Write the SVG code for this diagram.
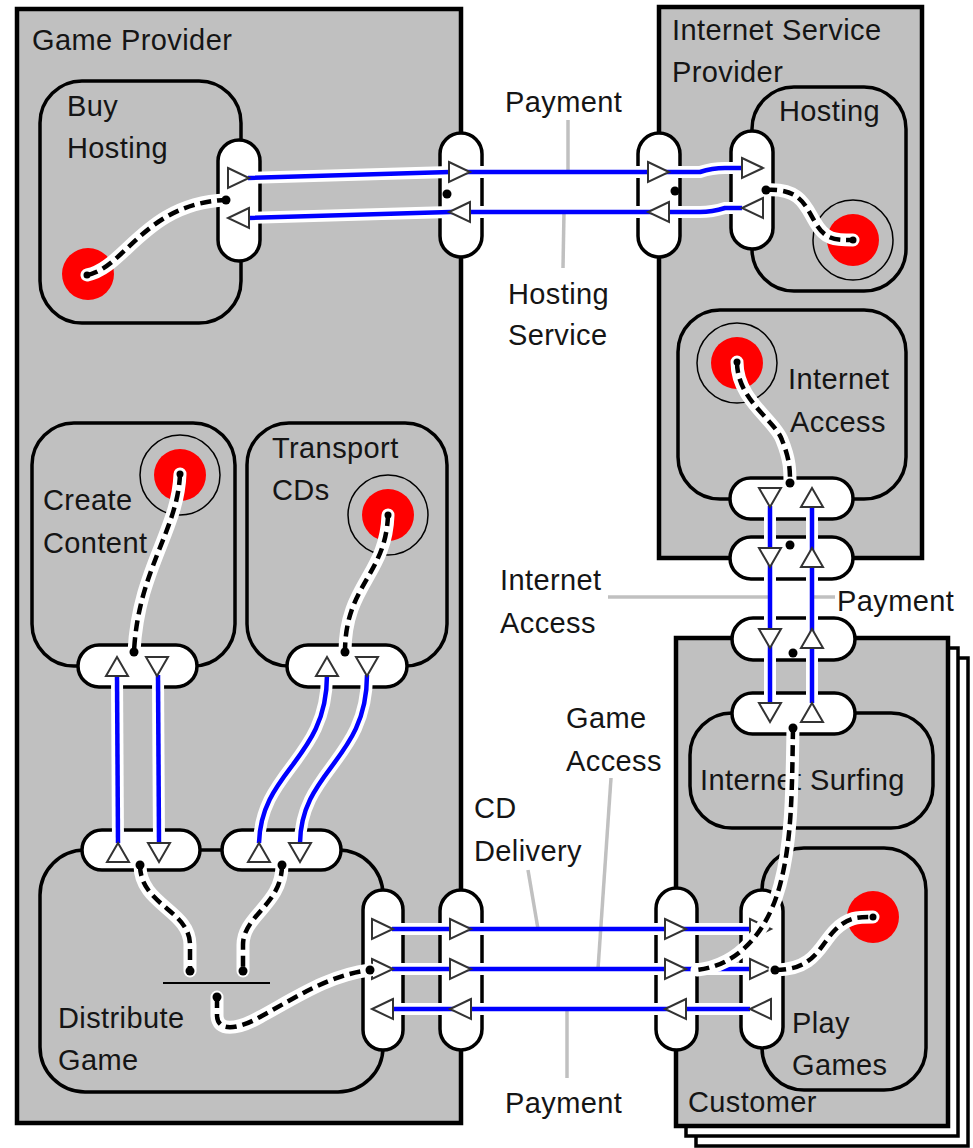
<svg xmlns="http://www.w3.org/2000/svg" xmlns:xlink="http://www.w3.org/1999/xlink" width="973" height="1148" viewBox="0 0 973 1148">
  <style>
    .outer { fill: #c0c0c0; stroke: #000; stroke-width: 4.5; }
    .sheet { fill: #fff; stroke: #000; stroke-width: 3.5; }
    .sub { fill: #c0c0c0; stroke: #000; stroke-width: 3.5; }
    .port { fill: #fff; stroke: #000; stroke-width: 3.5; }
    .goal { fill: #ff0000; }
    .ring { fill: none; stroke: #000; stroke-width: 1.5; }
    .halo { fill: none; stroke: #fff; stroke-width: 12; }
    .flow { fill: none; stroke: #0000ff; stroke-width: 4.5; }
    .dhalo { fill: none; stroke: #fff; stroke-width: 13; stroke-linecap: round; }
    .dep { fill: none; stroke: #000; stroke-width: 4.5; stroke-dasharray: 11 6; }
    .tri { fill: #fff; stroke: #333; stroke-width: 2; stroke-linejoin: miter; }
    .dot { fill: #000; }
    .leader { fill: none; stroke: #c0c0c0; stroke-width: 3.5; }
    .bar { fill: none; stroke: #000; stroke-width: 2; }
    .lbl { font-family: "Liberation Sans", Arial, sans-serif; font-size: 29px; letter-spacing: 0.4px; fill: #151515; }
  </style>
  <defs>
    <path id="triR" class="tri" d="M0,-10 L21,0 L0,10 Z"/>
    <path id="triL" class="tri" d="M21,-10 L0,0 L21,10 Z"/>
    <path id="triD" class="tri" d="M-11,0 L11,0 L0,19 Z"/>
    <path id="triU" class="tri" d="M-11,19 L11,19 L0,0 Z"/>
  </defs>

  <rect width="973" height="1148" fill="#fff"/>

  <!-- Game Provider -->
  <g id="game-provider">
    <rect class="outer" x="17" y="9" width="444" height="1114"/>
    <text class="lbl" x="32" y="50">Game Provider</text>

    <g id="buy-hosting">
      <rect class="sub" x="40" y="81" width="201" height="242" rx="42"/>
      <text class="lbl" x="67" y="116">Buy</text>
      <text class="lbl" x="67" y="158">Hosting</text>
      <circle class="goal" cx="88" cy="274" r="26"/>
      <rect class="port" x="218" y="140" width="42" height="121" rx="21"/>
    </g>

    <g id="create-content">
      <rect class="sub" x="32" y="423" width="203" height="243" rx="42"/>
      <text class="lbl" x="43" y="510">Create</text>
      <text class="lbl" x="43" y="553">Content</text>
      <circle class="ring" cx="180" cy="475" r="40"/>
      <circle class="goal" cx="180" cy="475" r="26"/>
      <rect class="port" x="78" y="645" width="119" height="42" rx="21"/>
    </g>

    <g id="transport-cds">
      <rect class="sub" x="247" y="423" width="200" height="243" rx="42"/>
      <text class="lbl" x="272" y="458">Transport</text>
      <text class="lbl" x="272" y="500">CDs</text>
      <circle class="ring" cx="388" cy="515" r="40"/>
      <circle class="goal" cx="388" cy="515" r="26"/>
      <rect class="port" x="287" y="645" width="120" height="42" rx="21"/>
    </g>

    <g id="distribute-game">
      <rect class="sub" x="40" y="850" width="343" height="242" rx="45"/>
      <text class="lbl" x="58" y="1028">Distribute</text>
      <text class="lbl" x="58" y="1070">Game</text>
      <rect class="port" x="82" y="830" width="118" height="40" rx="20"/>
      <rect class="port" x="222" y="830" width="119" height="40" rx="20"/>
      <rect class="port" x="363" y="890" width="40" height="160" rx="20"/>
      <path class="bar" d="M163,983 H270"/>
    </g>

    <rect class="port" x="440" y="133" width="42" height="124" rx="21"/>
    <rect class="port" x="440" y="890" width="42" height="160" rx="21"/>
  </g>

  <!-- Internet Service Provider -->
  <g id="isp">
    <rect class="outer" x="659" y="7" width="263" height="551"/>
    <text class="lbl" x="672" y="40">Internet Service</text>
    <text class="lbl" x="672" y="82">Provider</text>

    <g id="hosting">
      <rect class="sub" x="752" y="87" width="154" height="204" rx="42"/>
      <text class="lbl" x="779" y="121">Hosting</text>
      <circle class="ring" cx="853" cy="240" r="40"/>
      <circle class="goal" cx="853" cy="240" r="26"/>
      <rect class="port" x="731" y="131" width="42" height="118" rx="21"/>
    </g>

    <g id="internet-access">
      <rect class="sub" x="678" y="310" width="228" height="189" rx="42"/>
      <text class="lbl" x="788" y="389">Internet</text>
      <text class="lbl" x="790" y="432">Access</text>
      <circle class="ring" cx="737" cy="363" r="40"/>
      <circle class="goal" cx="737" cy="363" r="26"/>
      <rect class="port" x="730" y="478" width="123" height="41" rx="20.5"/>
    </g>

    <rect class="port" x="638" y="133" width="42" height="124" rx="21"/>
    <rect class="port" x="730" y="537" width="123" height="42" rx="21"/>
  </g>

  <!-- Customer (stack of several) -->
  <g id="customer">
    <rect class="sheet" x="696" y="658" width="272" height="488"/>
    <rect class="sheet" x="686" y="648" width="272" height="488"/>
    <rect class="outer" x="676" y="638" width="272" height="488"/>
    <text class="lbl" x="688" y="1112">Customer</text>

    <g id="internet-surfing">
      <rect class="sub" x="690" y="713" width="243" height="115" rx="42"/>
      <text class="lbl" x="700" y="790">Internet Surfing</text>
      <rect class="port" x="732" y="693" width="123" height="41" rx="20.5"/>
    </g>

    <g id="play-games">
      <rect class="sub" x="762" y="848" width="164" height="242" rx="42"/>
      <text class="lbl" x="792" y="1033">Play</text>
      <text class="lbl" x="792" y="1075">Games</text>
      <circle class="goal" cx="873" cy="917" r="26"/>
      <rect class="port" x="741" y="890" width="42" height="158" rx="21"/>
    </g>

    <rect class="port" x="732" y="618" width="123" height="42" rx="21"/>
    <rect class="port" x="656" y="888" width="41" height="162" rx="20.5"/>
  </g>

  <!-- Connectors -->
  <g id="connectors">
    <!-- white casings of the flows -->
    <g>
      <path class="halo" d="M248,178 L450,172 L700,172 Q712,168 725,168 L742,168"/>
      <path class="halo" d="M742,208 L725,208 Q712,212 700,212 L450,212 L248,218"/>
      <path class="halo" d="M770,506 L770,703"/>
      <path class="halo" d="M812,703 L812,506"/>
      <path class="halo" d="M118,843 L117,675"/>
      <path class="halo" d="M158,675 L159,843"/>
      <path class="halo" d="M259,843 C 261,770 327,760 327,675"/>
      <path class="halo" d="M367,675 C 367,760 301,770 300,843"/>
      <path class="halo" d="M392,929 L750,929"/>
      <path class="halo" d="M392,969 L750,969"/>
      <path class="halo" d="M750,1009 L393,1009"/>
    </g>

    <!-- label leaders -->
    <g>
      <path class="leader" d="M568,120 L568,172"/>
      <path class="leader" d="M564,212 L563,268"/>
      <path class="leader" d="M608,597 L770,597"/>
      <path class="leader" d="M812,597 L835,597"/>
      <path class="leader" d="M611,778 L598,969"/>
      <path class="leader" d="M528,870 L538,929"/>
      <path class="leader" d="M567,1009 L567,1078"/>
    </g>

    <!-- flows -->
    <g>
      <path class="flow" d="M248,178 L450,172 L700,172 Q712,168 725,168 L742,168"/>
      <path class="flow" d="M742,208 L725,208 Q712,212 700,212 L450,212 L248,218"/>
      <path class="flow" d="M770,506 L770,703"/>
      <path class="flow" d="M812,703 L812,506"/>
      <path class="flow" d="M118,843 L117,675"/>
      <path class="flow" d="M158,675 L159,843"/>
      <path class="flow" d="M259,843 C 261,770 327,760 327,675"/>
      <path class="flow" d="M367,675 C 367,760 301,770 300,843"/>
      <path class="flow" d="M392,929 L750,929"/>
      <path class="flow" d="M392,969 L750,969"/>
      <path class="flow" d="M750,1009 L393,1009"/>
    </g>

    <!-- flow arrowheads at the ports -->
    <g>
      <use xlink:href="#triR" x="228" y="178"/>
      <use xlink:href="#triL" x="228" y="218"/>
      <use xlink:href="#triR" x="449" y="172"/>
      <use xlink:href="#triL" x="449" y="212"/>
      <use xlink:href="#triR" x="648" y="172"/>
      <use xlink:href="#triL" x="648" y="212"/>
      <use xlink:href="#triR" x="742" y="168"/>
      <use xlink:href="#triL" x="742" y="208"/>

      <use xlink:href="#triD" x="770" y="488"/>
      <use xlink:href="#triU" x="812" y="488"/>
      <use xlink:href="#triD" x="770" y="548"/>
      <use xlink:href="#triU" x="812" y="548"/>
      <use xlink:href="#triD" x="770" y="629"/>
      <use xlink:href="#triU" x="812" y="629"/>
      <use xlink:href="#triD" x="770" y="703"/>
      <use xlink:href="#triU" x="812" y="703"/>

      <use xlink:href="#triU" x="117" y="657"/>
      <use xlink:href="#triD" x="157" y="657"/>
      <use xlink:href="#triU" x="118" y="843"/>
      <use xlink:href="#triD" x="159" y="843"/>
      <use xlink:href="#triU" x="327" y="657"/>
      <use xlink:href="#triD" x="367" y="657"/>
      <use xlink:href="#triU" x="259" y="843"/>
      <use xlink:href="#triD" x="300" y="843"/>

      <use xlink:href="#triR" x="372" y="929"/>
      <use xlink:href="#triR" x="450" y="929"/>
      <use xlink:href="#triR" x="665" y="929"/>
      <use xlink:href="#triR" x="750" y="929"/>
      <use xlink:href="#triR" x="372" y="969"/>
      <use xlink:href="#triR" x="450" y="969"/>
      <use xlink:href="#triR" x="665" y="969"/>
      <use xlink:href="#triR" x="750" y="969"/>
      <use xlink:href="#triL" x="372" y="1009"/>
      <use xlink:href="#triL" x="450" y="1009"/>
      <use xlink:href="#triL" x="665" y="1009"/>
      <use xlink:href="#triL" x="750" y="1009"/>
    </g>

    <!-- dependency links (dashed) -->
    <g>
      <path class="dhalo" d="M87,275 C 125,268 145,203 226,200"/>
      <path class="dep" d="M87,275 C 125,268 145,203 226,200"/>
      <path class="dhalo" d="M766,190 C 800,188 805,205 815,222 C 825,240 835,240 853,240"/>
      <path class="dep" d="M766,190 C 800,188 805,205 815,222 C 825,240 835,240 853,240"/>
      <path class="dhalo" d="M737,362 C 737,400 775,420 782,440 C 790,460 790,470 790,483"/>
      <path class="dep" d="M737,362 C 737,400 775,420 782,440 C 790,460 790,470 790,483"/>
      <path class="dhalo" d="M180,474 C 178,530 138,570 134,652"/>
      <path class="dep" d="M180,474 C 178,530 138,570 134,652"/>
      <path class="dhalo" d="M388,515 C 386,575 345,585 345,652"/>
      <path class="dep" d="M388,515 C 386,575 345,585 345,652"/>
      <path class="dhalo" d="M140,865 C 140,905 190,910 190,945 L190,971"/>
      <path class="dep" d="M140,865 C 140,905 190,910 190,945 L190,971"/>
      <path class="dhalo" d="M282,865 C 282,905 243,915 243,945 L243,971"/>
      <path class="dep" d="M282,865 C 282,905 243,915 243,945 L243,971"/>
      <path class="dhalo" d="M217,997 L217,1015 C 217,1032 237,1030 260,1017 C 300,995 330,975 370,970"/>
      <path class="dep" d="M217,997 L217,1015 C 217,1032 237,1030 260,1017 C 300,995 330,975 370,970"/>
      <path class="dhalo" d="M793,728 C 792,790 792,840 780,885 C 768,930 740,965 697,970"/>
      <path class="dep" d="M793,728 C 792,790 792,840 780,885 C 768,930 740,965 697,970"/>
      <path class="dhalo" d="M775,970 C 815,970 820,945 835,930 C 848,917 858,917 873,917"/>
      <path class="dep" d="M775,970 C 815,970 820,945 835,930 C 848,917 858,917 873,917"/>
    </g>

    <!-- binding points -->
    <g>
      <circle class="dot" cx="226" cy="200" r="4.5"/>
      <circle class="dot" cx="447" cy="194" r="4.5"/>
      <circle class="dot" cx="675" cy="191" r="4.5"/>
      <circle class="dot" cx="766" cy="190" r="4.5"/>
      <circle class="dot" cx="790" cy="483" r="4.5"/>
      <circle class="dot" cx="790" cy="545" r="4.5"/>
      <circle class="dot" cx="793" cy="653" r="4.5"/>
      <circle class="dot" cx="793" cy="728" r="4.5"/>
      <circle class="dot" cx="134" cy="652" r="4.5"/>
      <circle class="dot" cx="345" cy="652" r="4.5"/>
      <circle class="dot" cx="140" cy="865" r="4.5"/>
      <circle class="dot" cx="282" cy="865" r="4.5"/>
      <circle class="dot" cx="190" cy="971" r="4.5"/>
      <circle class="dot" cx="243" cy="971" r="4.5"/>
      <circle class="dot" cx="217" cy="997" r="4.5"/>
      <circle class="dot" cx="370" cy="970" r="4.5"/>
      <circle class="dot" cx="775" cy="970" r="4.5"/>
      <circle class="dot" cx="87" cy="275" r="3.5"/>
      <circle class="dot" cx="853" cy="240" r="3.5"/>
      <circle class="dot" cx="737" cy="362" r="3.5"/>
      <circle class="dot" cx="180" cy="474" r="3.5"/>
      <circle class="dot" cx="388" cy="515" r="3.5"/>
      <circle class="dot" cx="873" cy="917" r="3.5"/>
    </g>
  </g>

  <!-- flow labels -->
  <g id="labels">
    <text class="lbl" x="505" y="112">Payment</text>
    <text class="lbl" x="508" y="304">Hosting</text>
    <text class="lbl" x="508" y="345">Service</text>
    <text class="lbl" x="500" y="590">Internet</text>
    <text class="lbl" x="500" y="633">Access</text>
    <text class="lbl" x="837" y="611">Payment</text>
    <text class="lbl" x="566" y="728">Game</text>
    <text class="lbl" x="566" y="771">Access</text>
    <text class="lbl" x="474" y="818">CD</text>
    <text class="lbl" x="474" y="861">Delivery</text>
    <text class="lbl" x="505" y="1113">Payment</text>
  </g>
</svg>
